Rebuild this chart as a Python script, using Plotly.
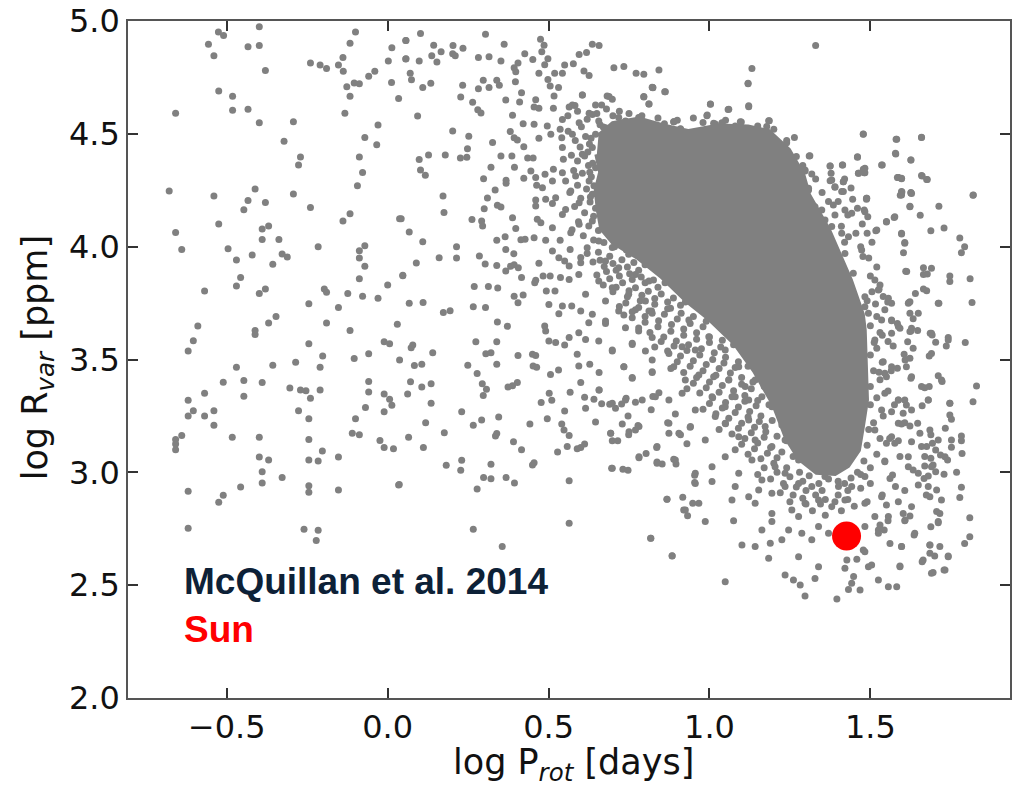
import plotly.graph_objects as go

# ---------------- data (log P_rot [days], log R_var [ppm]) ----------------
# sparse stars, left part of the diagram
stars_left = [
    (-0.526,4.951),(-0.51,4.936),(-0.399,4.975),(-0.10,4.951),(-0.557,4.897),(-0.434,4.886),(-0.399,4.891),
    (-0.117,4.901),(0.013,4.882),(0.056,4.914),(-0.54,4.846),(-0.139,4.838),(0.002,4.823),(0.056,4.832),
    (-0.24,4.814),(-0.21,4.805),(-0.19,4.79),(-0.153,4.805),(-0.138,4.777),(-0.38,4.781),(-0.04,4.777),
    (-0.059,4.755),(-0.104,4.725),(-0.088,4.722),(0.012,4.727),(-0.127,4.709),(-0.525,4.69),(-0.482,4.666),
    (-0.117,4.666),(0.034,4.657),(-0.659,4.591),(-0.482,4.604),(-0.434,4.609),(-0.133,4.591),(-0.399,4.549),
    (-0.293,4.554),(-0.03,4.539),(-0.071,4.484),(-0.322,4.467),(-0.034,4.452),(-0.271,4.397),(-0.088,4.397),
    (-0.277,4.362),(-0.078,4.329),(-0.094,4.27),(-0.679,4.247),(-0.54,4.225),(-0.412,4.256),(-0.293,4.233),
    (-0.434,4.205),(-0.38,4.196),(-0.24,4.174),(-0.447,4.164),(-0.117,4.146),(-0.139,4.114),(0.037,4.124),
    (-0.525,4.1),(-0.659,4.063),(-0.39,4.078),(-0.37,4.092),(-0.39,4.032),(-0.338,4.032),(-0.64,3.987),
    (-0.496,3.991),(-0.216,4.0),(-0.071,4.004),(-0.088,3.982),(-0.47,3.941),(-0.421,3.963),(-0.328,3.967),
    (-0.312,3.954),(-0.357,3.922),(-0.088,3.95),(-0.071,3.913),(0.047,3.873),(-0.457,3.863),(-0.47,3.826),
    (-0.088,3.858),(0.0,3.83),(-0.569,3.804),(-0.38,3.812),(-0.399,3.793),(-0.197,3.812),(-0.19,3.798),
    (-0.124,3.793),(-0.078,3.78),(-0.03,3.771),(-0.245,3.747),(-0.153,3.73),(-0.59,3.648),(-0.347,3.69),
    (-0.37,3.662),(-0.19,3.662),(-0.412,3.629),(-0.412,3.611),(-0.117,3.629),(0.03,3.656),(-0.604,3.583),
    (-0.245,3.57),(-0.011,3.579),(0.006,3.57),(-0.62,3.538),(-0.202,3.516),(-0.059,3.526),(-0.104,3.504),
    (0.037,3.498),(-0.47,3.466),(-0.357,3.475),(-0.286,3.488),(-0.21,3.466),(-0.511,3.399),(-0.447,3.407),
    (-0.39,3.398),(-0.059,3.402),(-0.569,3.35),(-0.62,3.319),(-0.447,3.337),(-0.304,3.374),(-0.271,3.365),
    (-0.254,3.361),(-0.21,3.365),(-0.24,3.328),(-0.059,3.356),(-0.011,3.347),(0.006,3.324),(-0.604,3.273),
    (-0.62,3.25),(-0.569,3.25),(-0.54,3.273),(-0.54,3.209),(-0.277,3.273),(-0.245,3.237),(-0.10,3.237),
    (-0.069,3.287),(-0.011,3.269),(0.013,3.297),(-0.64,3.163),(-0.659,3.146),(-0.659,3.126),(-0.659,3.1),
    (-0.483,3.155),(-0.399,3.155),(-0.245,3.146),(-0.11,3.173),(-0.088,3.167),(-0.024,3.141),(-0.011,3.11),
    (0.018,3.105),(-0.399,3.068),(-0.37,3.055),(-0.245,3.055),(-0.216,3.05),(-0.203,3.095),(-0.153,3.068),
    (-0.39,3.003),(-0.328,2.977),(-0.39,2.953),(-0.457,2.935),(-0.245,2.94),(-0.245,2.912),(-0.153,2.922),
    (0.034,2.944),(-0.62,2.916),(-0.511,2.898),(-0.525,2.867),(-0.62,2.752),(-0.26,2.748),(-0.216,2.743),
    (-0.222,2.698),
]

# stars between log P = 0 and 0.85
stars_mid = [
    (0.102,4.945),(0.057,4.914),(0.304,4.941),(0.475,4.919),(0.143,4.892),(0.203,4.891),(0.234,4.879),
    (0.362,4.897),(0.486,4.892),(0.636,4.897),(0.657,4.891),(0.057,4.833),(0.098,4.823),(0.137,4.846),
    (0.166,4.864),(0.153,4.818),(0.202,4.855),(0.21,4.846),(0.282,4.838),(0.315,4.842),(0.352,4.823),
    (0.426,4.855),(0.479,4.864),(0.498,4.833),(0.451,4.829),(0.595,4.851),(0.618,4.86),(0.07,4.768),
    (0.074,4.74),(0.109,4.705),(0.134,4.724),(0.393,4.793),(0.405,4.814),(0.398,4.775),(0.488,4.806),
    (0.47,4.768),(0.519,4.768),(0.543,4.768),(0.55,4.805),(0.577,4.811),(0.61,4.778),(0.626,4.759),
    (0.703,4.793),(0.734,4.798),(0.772,4.768),(0.796,4.764),(0.233,4.715),(0.227,4.663),(0.282,4.7),
    (0.297,4.737),(0.315,4.705),(0.339,4.737),(0.347,4.715),(0.397,4.731),(0.498,4.741),(0.505,4.712),
    (0.531,4.705),(0.416,4.682),(0.517,4.668),(0.605,4.672),(0.824,4.705),(0.796,4.663),(0.264,4.64),
    (0.28,4.607),(0.29,4.592),(0.367,4.65),(0.41,4.641),(0.46,4.651),(0.455,4.619),(0.47,4.613),
    (0.515,4.613),(0.564,4.619),(0.582,4.626),(0.626,4.591),(0.665,4.628),(0.682,4.668),(0.698,4.653),
    (0.812,4.632),(0.093,4.579),(0.388,4.582),(0.421,4.545),(0.455,4.542),(0.496,4.535),(0.543,4.564),
    (0.595,4.549),(0.202,4.513),(0.252,4.489),(0.326,4.462),(0.381,4.51),(0.393,4.483),(0.403,4.473),
    (0.423,4.443),(0.47,4.48),(0.507,4.498),(0.536,4.52),(0.541,4.483),(0.543,4.439),(0.574,4.498),
    (0.248,4.434),(0.098,4.386),(0.127,4.406),(0.179,4.406),(0.226,4.393),(0.246,4.396),(0.352,4.402),
    (0.386,4.402),(0.435,4.393),(0.452,4.393),(0.546,4.387),(0.605,4.409),(0.102,4.34),(0.117,4.316),
    (0.321,4.352),(0.394,4.352),(0.445,4.335),(0.489,4.321),(0.515,4.343),(0.543,4.328),(0.298,4.301),
    (0.368,4.294),(0.368,4.281),(0.423,4.303),(0.46,4.306),(0.463,4.272),(0.481,4.261),(0.512,4.291),
    (0.553,4.291),(0.569,4.247),(0.584,4.313),(0.334,4.251),(0.172,4.225),(0.31,4.216),(0.46,4.207),
    (0.491,4.21),(0.522,4.217),(0.341,4.183),(0.352,4.176),(0.46,4.18),(0.512,4.191),(0.553,4.165),
    (0.595,4.195),(0.3,4.168),(0.175,4.151),(0.042,4.124),(0.262,4.12),(0.292,4.114),(0.295,4.092),
    (0.388,4.128),(0.398,4.081),(0.465,4.121),(0.476,4.106),(0.512,4.084),(0.543,4.143),(0.595,4.099),
    (0.067,4.065),(0.109,4.022),(0.339,4.028),(0.365,4.044),(0.414,4.031),(0.427,4.033),(0.455,4.04),
    (0.491,4.028),(0.536,4.028),(0.569,4.062),(0.214,4.0),(0.16,3.951),(0.214,3.95),(0.285,3.959),
    (0.367,3.987),(0.392,3.969),(0.512,3.981),(0.532,3.951),(0.567,3.987),(0.089,3.928),(0.303,3.923),
    (0.339,3.917),(0.367,3.892),(0.382,3.913),(0.393,3.92),(0.406,3.907),(0.47,3.926),(0.55,3.936),
    (0.564,3.914),(0.6,3.929),(0.047,3.871),(0.416,3.863),(0.46,3.851),(0.483,3.87),(0.505,3.87),
    (0.537,3.863),(0.564,3.855),(0.594,3.877),(0.269,3.823),(0.313,3.823),(0.342,3.817),(0.457,3.84),
    (0.493,3.804),(0.52,3.804),(0.615,3.789),(0.393,3.78),(0.421,3.786),(0.405,3.752),(0.067,3.749),
    (0.11,3.753),(0.173,3.708),(0.194,3.716),(0.266,3.734),(0.304,3.73),(0.501,3.744),(0.543,3.737),
    (0.572,3.737),(0.532,3.703),(0.6,3.715),(0.341,3.666),(0.372,3.647),(0.488,3.648),(0.491,3.626),
    (0.625,3.663),(0.274,3.579),(0.339,3.579),(0.073,3.552),(0.078,3.564),(0.14,3.53),(0.305,3.526),
    (0.321,3.53),(0.405,3.518),(0.45,3.523),(0.46,3.518),(0.501,3.582),(0.522,3.575),(0.55,3.564),
    (0.564,3.597),(0.594,3.619),(0.615,3.589),(0.589,3.523),
    (0.636,4.586),(0.656,4.557),(0.677,4.527),(0.718,4.572),(0.739,4.557),(0.76,4.527),(0.78,4.572),
    (0.822,4.513),(0.646,4.498),(0.698,4.468),(0.76,4.453),(0.801,4.453),(0.636,4.439),(0.677,4.409),
    (0.718,4.394),(0.76,4.38),(0.822,4.409),(0.646,4.35),(0.687,4.335),(0.739,4.321),(0.791,4.335),
    (0.832,4.306),(0.626,4.291),(0.667,4.276),(0.708,4.247),(0.76,4.261),(0.801,4.232),(0.636,4.232),
    (0.656,4.173),(0.698,4.173),(0.749,4.158),(0.801,4.143),(0.636,4.114),(0.677,4.084),(0.718,4.055),
    (0.76,4.084),(0.812,4.055),(0.656,4.025),(0.698,3.996),(0.749,3.966),(0.801,3.981),(0.677,3.936),
    (0.718,3.907),(0.77,3.877),(0.812,3.848),(0.656,3.848),(0.698,3.818),(0.749,3.789),(0.801,3.759),
    (0.677,3.759),(0.718,3.715),(0.76,3.685),(0.812,3.715),(0.636,3.7),(0.677,3.671),(0.739,3.641),
    (0.78,3.626),(0.822,3.597),(0.656,3.582),(0.698,3.538),(0.76,3.567),(0.801,3.538),
    (0.083,3.473),(0.106,3.479),(0.278,3.438),(0.249,3.474),(0.339,3.479),(0.452,3.471),(0.463,3.466),
    (0.506,3.433),(0.531,3.454),(0.594,3.471),(0.628,3.479),(0.657,3.442),(0.734,3.468),(0.76,3.42),
    (0.822,3.442),(0.071,3.401),(0.135,3.392),(0.106,3.378),(0.062,3.347),(0.135,3.306),(0.294,3.393),
    (0.307,3.368),(0.297,3.341),(0.374,3.378),(0.388,3.384),(0.403,3.398),(0.477,3.31),(0.502,3.35),
    (0.51,3.319),(0.567,3.355),(0.6,3.398),(0.612,3.333),(0.641,3.324),(0.657,3.365),(0.665,3.304),
    (0.69,3.302),(0.708,3.284),(0.727,3.303),(0.741,3.328),(0.77,3.311),(0.615,3.284),(0.55,3.272),
    (0.824,3.336),(0.819,3.277),(0.843,3.353),(0.23,3.269),(0.118,3.22),(0.065,3.155),(0.111,3.11),
    (0.176,3.175),(0.266,3.209),(0.292,3.232),(0.345,3.245),(0.339,3.172),(0.335,3.161),(0.391,3.136),
    (0.416,3.1),(0.442,3.214),(0.496,3.237),(0.541,3.214),(0.548,3.188),(0.564,3.163),(0.558,3.114),
    (0.528,3.09),(0.589,3.104),(0.6,3.11),(0.612,3.126),(0.646,3.223),(0.693,3.173),(0.698,3.14),
    (0.715,3.14),(0.729,3.214),(0.747,3.25),(0.749,3.167),(0.77,3.188),(0.778,3.207),(0.87,3.22),
    (0.874,3.173),(0.894,3.259),(0.91,3.166),(0.93,3.127),(0.94,3.2),(0.836,3.11),(0.182,3.031),
    (0.23,3.053),(0.227,3.009),(0.321,3.036),(0.298,2.977),(0.321,2.972),(0.368,2.977),(0.394,2.953),
    (0.278,2.926),(0.45,3.033),(0.455,3.042),(0.564,2.963),(0.696,3.018),(0.731,3.014),(0.747,3.009),
    (0.781,3.065),(0.803,3.084),(0.837,3.046),(0.853,3.037),(0.889,3.058),(0.896,3.037),(0.954,2.987),
    (0.954,2.955),(0.917,2.89),(0.868,2.881),(0.948,2.863),(0.92,2.833),(0.932,2.808),(0.036,2.946),
    (0.266,2.748),(0.564,2.774),(0.356,2.671),(0.818,2.708),(0.884,2.63),
]

# stars around the main concentration (log P = 0.6 - 1.85)
stars_right = [
    (0.843,4.783),(0.824,4.704),(0.861,4.687),(1.132,4.79),(1.12,4.722),(1.33,4.891),(1.003,4.631),
    (1.058,4.608),(1.122,4.62),(0.992,4.58),(1.018,4.544),(1.039,4.549),(0.889,4.554),(0.91,4.523),
    (1.099,4.552),(1.186,4.558),(1.178,4.532),(1.478,4.499),(1.58,4.476),(1.659,4.484),(1.24,4.47),
    (1.264,4.484),(1.23,4.421),(1.312,4.403),(1.46,4.399),(1.579,4.411),(1.626,4.384),(1.535,4.362),
    (1.375,4.357),(1.414,4.362),(1.463,4.325),(1.483,4.328),(1.378,4.325),(1.266,4.354),(1.297,4.335),
    (1.318,4.322),(1.375,4.292),(1.416,4.288),(1.39,4.263),(1.411,4.244),(1.584,4.306),(1.597,4.303),
    (1.661,4.313),(1.675,4.298),(1.597,4.244),(1.626,4.24),(1.82,4.229),(1.489,4.214),(1.308,4.251),
    (1.31,4.402),(1.375,4.358),(1.413,4.362),(1.46,4.396),(1.38,4.295),(1.39,4.266),(1.416,4.288),
    (1.416,4.244),(1.463,4.325),(1.478,4.343),(1.587,4.307),(1.597,4.229),(1.628,4.236),(1.297,4.34),
    (1.308,4.259),(1.349,4.163),(1.385,4.185),(1.421,4.163),(1.442,4.148),(1.483,4.155),(1.488,4.214),
    (1.52,4.074),(1.55,4.111),(1.576,4.133),(1.623,4.177),(1.597,4.059),(1.607,4.015),(1.613,3.89),
    (1.411,4.059),(1.432,4.044),(1.473,3.985),(1.421,3.97),(1.447,3.882),(1.514,3.852),(1.525,3.808),
    (1.556,3.771),(1.623,3.756),(1.483,3.778),(1.494,3.705),(1.566,3.675),(1.587,3.646),(1.628,3.638),
    (1.359,4.118),(1.328,4.177),(1.38,4.089),
    (0.822,4.706),(0.863,4.687),(1.12,4.724),(1.122,4.624),(1.003,4.632),(1.06,4.609),(0.993,4.584),
    (1.013,4.547),(1.039,4.547),(0.889,4.554),(0.91,4.52),(1.096,4.554),(1.184,4.558),(0.796,4.665),
    (0.812,4.632),(0.605,4.672),(0.688,4.665),(0.646,4.628),(0.574,4.628),
    (1.478,4.498),(1.582,4.476),(1.659,4.485),(1.578,4.414),(1.626,4.384),(1.537,4.362),(1.483,4.347),
    (1.481,4.328),(1.587,4.307),(1.597,4.301),(1.659,4.315),(1.677,4.298),(1.598,4.242),(1.593,4.228),
    (1.626,4.238),(1.819,4.228),(1.488,4.21),(1.623,4.179),(1.713,4.179),(1.481,4.163),(1.492,4.133),
    (1.574,4.129),(1.55,4.109),(1.655,4.139),(1.517,4.07),(1.597,4.056),(1.607,4.019),(1.603,3.973),
    (1.688,4.07),(1.729,4.083),(1.778,4.038),(1.793,4.0),(1.783,3.973),(1.61,3.891),(1.665,3.907),
    (1.69,3.904),(1.665,3.877),(1.677,3.879),(1.747,3.87),(1.747,3.846),(1.81,3.858),(1.477,3.956),
    (1.527,3.811),(1.54,3.779),(1.554,3.755),(1.516,3.746),(1.64,3.793),(1.665,3.812),(1.675,3.805),
    (1.62,3.753),(1.713,3.749),(1.816,3.753),(1.623,3.705),(1.633,3.681),(1.566,3.672),(1.584,3.66),
    (1.592,3.638),(1.626,3.626),(1.647,3.628),(1.686,3.616),(1.692,3.609),(1.703,3.576),(1.742,3.597),
    (1.736,3.56),(1.795,3.575),(1.537,3.607),(1.512,3.575),(1.571,3.56),(1.616,3.579),(1.633,3.55),
    (1.605,3.523),(1.623,3.505),(1.612,3.468),(1.683,3.516),(1.626,3.417),(1.537,3.488),(1.527,3.443),
    (1.55,3.424),(1.584,3.461),(1.711,3.428),(1.723,3.402),(1.669,3.375),(1.683,3.38),(1.83,3.383),
    (1.819,3.313),(1.747,3.306),(1.68,3.32),(1.661,3.295),(1.607,3.32),(1.612,3.298),(1.587,3.32),
    (1.566,3.269),(1.602,3.262),(1.607,3.22),(1.623,3.205),(1.647,3.217),(1.597,3.214),(1.747,3.254),
    (1.752,3.235),(1.733,3.195),(1.685,3.188),(1.688,3.166),(1.783,3.161),(1.783,3.14),(1.654,3.173),
    (1.628,3.136),(1.587,3.14),(1.566,3.158),(1.55,3.129),(1.675,3.114),(1.693,3.129),(1.703,3.099),
    (1.718,3.077),(1.669,3.07),(1.688,3.062),(1.752,3.111),(1.785,3.084),(1.74,3.055),(1.592,3.07),
    (1.618,3.025),(1.633,3.01),(1.669,3.028),(1.695,3.033),(1.703,3.003),(1.729,2.991),(1.768,3.0),
    (1.667,2.973),(1.68,2.984),(1.649,2.944),(1.569,2.988),(1.561,2.973),(1.545,3.047),(1.578,2.937),
    (1.607,2.919),(1.674,2.9),(1.685,2.892),(1.706,2.922),(1.783,2.934),(1.778,2.889),(1.587,2.87),
    (1.55,2.855),(1.537,2.9),(1.602,2.818),(1.623,2.807),(1.706,2.826),(1.716,2.818),(1.711,2.777),
    (1.688,2.759),(1.809,2.799),(1.809,2.715),(1.793,2.685),(1.636,2.722),(1.607,2.786),(1.555,2.786),
    (1.53,2.767),(1.543,2.744),(1.525,2.73),(1.561,2.685),(1.597,2.671),(1.685,2.678),(1.716,2.671),
    (1.685,2.641),(1.7,2.629),(1.742,2.629),(1.729,2.567),(1.695,2.556),(1.661,2.604),(1.592,2.585),
    (1.504,2.589),(1.483,2.648),
]

# stars below the main concentration
stars_low = [
    (0.677,3.66),(0.734,3.697),(0.77,3.72),(0.822,3.705),(0.879,3.727),(0.936,3.675),(0.987,3.705),
    (1.029,3.653),(1.07,3.72),(0.698,3.542),(0.76,3.572),(0.822,3.498),(0.874,3.527),(0.915,3.557),
    (0.956,3.542),(0.998,3.601),(1.049,3.542),(1.08,3.587),(0.734,3.468),(0.76,3.417),(0.822,3.446),
    (0.889,3.468),(0.925,3.409),(0.967,3.431),(1.013,3.424),(1.06,3.409),(1.091,3.468),(1.111,3.38),
    (1.142,3.409),(0.657,3.365),(0.698,3.306),(0.739,3.321),(0.791,3.321),(0.832,3.335),(0.874,3.321),
    (0.915,3.35),(0.956,3.276),(1.008,3.335),(1.049,3.291),(1.08,3.335),(1.122,3.321),(1.163,3.335),
    (1.194,3.291),(1.215,3.365),(0.693,3.173),(0.75,3.18),(0.781,3.203),(0.837,3.114),(0.874,3.217),
    (0.905,3.173),(0.941,3.203),(1.018,3.247),(0.987,3.143),(1.049,3.217),(1.091,3.158),(1.122,3.232),
    (1.142,3.143),(1.173,3.203),(1.194,3.114),(1.235,3.143),(1.256,3.203),(0.781,3.069),(0.837,3.04),
    (0.894,3.055),(0.956,2.996),(1.008,3.025),(1.049,3.069),(1.091,2.996),(1.132,3.055),(1.163,2.966),
    (1.204,3.025),(1.235,2.996),(1.277,3.055),(0.698,3.018),(0.956,2.951),(1.008,2.959),(1.08,2.937),
    (1.122,2.892),(1.153,2.922),(1.194,2.907),(1.235,2.937),(1.277,2.951),(1.318,2.937),(1.359,2.981),
    (1.401,2.937),(1.442,2.937),(1.483,2.981),(0.868,2.881),(0.925,2.833),(0.967,2.863),(1.07,2.877),
    (1.142,2.863),(1.194,2.818),(1.256,2.833),(1.297,2.863),(1.339,2.877),(1.38,2.848),(1.421,2.877),
    (1.483,2.863),(1.514,2.804),(1.535,2.892),(0.817,2.708),(0.884,2.629),(0.987,2.782),(1.075,2.786),
    (1.101,2.678),(1.142,2.671),(1.163,2.745),(1.194,2.782),(1.189,2.686),(1.225,2.701),(1.246,2.745),
    (1.277,2.804),(1.287,2.73),(1.318,2.701),(1.339,2.76),(1.37,2.73),(1.401,2.701),(1.483,2.76),
    (1.525,2.745),(1.556,2.804),(1.184,2.619),(1.277,2.626),(1.339,2.582),(1.427,2.611),(1.458,2.615),
    (1.478,2.656),(1.421,2.575),(1.494,2.582),(1.235,2.545),(1.261,2.523),(1.328,2.53),(1.282,2.501),
    (1.448,2.538),(1.442,2.508),(1.525,2.523),(1.556,2.493),(1.582,2.493),(1.432,2.481),(1.468,2.479),
    (1.297,2.452),(1.396,2.439),(1.049,2.515),(1.592,2.582),(1.597,2.671),(1.664,2.611),(1.69,2.553),
    (1.732,2.567),(1.742,2.626),(1.685,2.678),(1.638,2.73),(1.608,2.789),(1.628,2.848),(1.711,2.782),
    (1.721,2.877),(1.68,2.937),(1.649,2.996),(1.69,3.025),(1.732,3.069),(1.752,3.143),(1.711,3.143),
    (1.659,3.114),(1.618,3.069),(1.576,3.129),(1.587,3.217),(1.628,3.276),(1.68,3.321),(1.721,3.409),
    (1.747,3.306),(1.659,3.38),(1.587,3.321),(1.545,3.35),(1.535,3.276),(1.514,3.188),(1.566,3.468),
    (1.608,3.498),(1.628,3.424),(1.545,3.439),(1.514,3.586),(1.566,3.616),(1.623,3.624),(1.69,3.616),
    (1.742,3.586),(1.69,3.527),(1.535,3.675),(1.483,3.734),(1.566,3.749),(1.711,3.749),(1.649,3.705),
    (1.618,3.749),
]

# crowded stars hugging the saturated concentration
stars_crowd = [
    (0.561,4.512),(0.583,4.47),(0.602,4.531),(0.615,4.488),(0.598,4.442),(0.627,4.455),(0.571,4.405),
    (0.59,4.38),(0.612,4.402),(0.624,4.36),(0.605,4.325),(0.578,4.338),(0.633,4.31),(0.59,4.272),
    (0.618,4.255),(0.566,4.24),(0.6,4.214),(0.629,4.198),(0.581,4.178),(0.612,4.15),(0.64,4.135),
    (0.593,4.11),(0.625,4.092),(0.655,4.072),(0.573,4.075),(0.608,4.048),(0.64,4.03),(0.672,4.018),
    (0.705,4.0),(0.742,3.985),(0.62,3.995),(0.655,3.975),(0.69,3.958),(0.728,3.942),(0.765,3.93),
    (0.8,3.92),(0.835,3.905),(0.6,3.952),(0.638,3.932),(0.673,3.912),(0.71,3.895),(0.752,3.88),
    (0.788,3.866),(0.826,3.852),(0.862,3.84),(0.9,3.815),(0.65,3.875),(0.69,3.858),(0.73,3.84),
    (0.77,3.818),(0.81,3.802),(0.85,3.79),(0.888,3.772),(0.925,3.755),(0.962,3.74),(0.995,3.725),
    (0.7,3.8),(0.745,3.778),(0.785,3.76),(0.83,3.745),(0.87,3.725),(0.912,3.705),(0.95,3.69),
    (0.99,3.67),(1.03,3.66),(1.06,3.635),(1.09,3.61),(0.72,3.735),(0.76,3.712),(0.8,3.69),
    (0.842,3.672),(0.882,3.655),(0.92,3.635),(0.96,3.618),(1.0,3.6),(1.04,3.585),(1.075,3.565),
    (1.11,3.545),(1.14,3.52),(0.78,3.64),(0.815,3.62),(0.858,3.6),(0.897,3.582),(0.935,3.565),
    (0.975,3.548),(1.015,3.53),(1.05,3.51),(1.09,3.49),(1.12,3.47),(1.15,3.45),(0.83,3.555),
    (0.87,3.538),(0.91,3.515),(0.95,3.495),(0.99,3.478),(1.03,3.46),(1.065,3.44),(1.1,3.42),
    (1.135,3.4),(1.17,3.38),(1.2,3.36),(0.88,3.46),(0.92,3.442),(0.96,3.42),(1.0,3.4),
    (1.04,3.385),(1.075,3.362),(1.11,3.34),(1.15,3.318),(1.185,3.3),(1.215,3.28),(0.93,3.37),
    (0.97,3.352),(1.01,3.33),(1.05,3.31),(1.09,3.29),(1.125,3.27),(1.16,3.25),(1.195,3.23),
    (1.225,3.21),(0.98,3.28),(1.02,3.26),(1.06,3.24),(1.1,3.218),(1.14,3.2),(1.175,3.18),
    (1.21,3.16),(1.24,3.14),(1.03,3.19),(1.07,3.17),(1.11,3.15),(1.15,3.13),(1.19,3.11),
    (1.225,3.09),(1.26,3.07),(1.08,3.1),(1.12,3.08),(1.16,3.06),(1.2,3.04),(1.24,3.02),
    (1.28,3.0),(1.31,2.985),(1.15,2.99),(1.19,2.97),(1.23,2.95),(1.27,2.935),(1.3,2.92),
    (1.34,2.95),(1.37,2.97),(1.4,2.96),(1.44,2.975),(1.46,3.0),(1.25,2.87),(1.29,2.885),
    (1.33,2.9),(1.36,2.88),(1.4,2.9),(1.43,2.92),(1.47,2.93),(1.5,2.95),(1.32,2.83),
    (1.36,2.81),(1.41,2.83),(1.45,2.85),(1.49,2.87),
    (1.445,4.21),(1.46,4.17),(1.475,4.1),(1.49,4.06),(1.505,4.02),(1.47,4.0),(1.495,3.95),
    (1.52,3.91),(1.5,3.87),(1.53,3.83),(1.505,3.8),(1.545,3.72),(1.52,3.69),(1.5,3.65),
    (1.53,3.62),(1.555,3.58),(1.52,3.55),(1.5,3.52),(1.54,3.49),(1.51,3.45),(1.53,3.41),
    (1.5,3.38),(1.555,3.36),(1.52,3.33),(1.5,3.3),(1.54,3.25),(1.51,3.22),(1.495,3.19),
    (1.53,3.15),(1.49,3.12),(1.52,3.08),(1.48,3.05),(1.5,3.02),(1.47,2.99),(1.42,4.3),
    (1.44,4.26),(1.4,4.2),(1.43,4.14),(1.455,4.06),(1.49,3.76),(1.565,3.45),(1.575,3.3),
    (1.56,3.15),(1.545,3.05),
    (0.56,4.58),(0.59,4.6),(0.62,4.565),(0.65,4.59),(0.68,4.61),(0.7,4.58),(0.72,4.6),
    (0.75,4.59),(0.66,4.54),(0.74,4.555),(0.79,4.58),(0.84,4.57),(0.86,4.545),(0.9,4.56),
    (0.95,4.57),(0.98,4.55),(1.05,4.56),(1.08,4.535),(1.15,4.535),(1.2,4.52),(1.24,4.46),
    (1.27,4.4),(1.29,4.36),(1.33,4.3),(1.35,4.24),(1.37,4.2),(1.39,4.14),(1.41,4.09),(1.42,4.02),
    (0.62,3.97),(0.66,3.94),(0.7,3.925),(0.745,3.91),(0.78,3.895),(0.68,3.89),(0.72,3.87),
    (0.76,3.855),(0.8,3.84),(0.84,3.82),(0.67,3.83),(0.71,3.82),(0.75,3.805),(0.79,3.785),
    (0.83,3.77),(0.87,3.755),(0.91,3.74),(0.74,3.75),(0.78,3.73),(0.82,3.715),(0.86,3.7),
    (0.9,3.68),(0.94,3.66),(0.98,3.645),(0.8,3.665),(0.84,3.645),(0.88,3.625),(0.92,3.608),
    (0.96,3.59),(1.0,3.575),(1.035,3.555),(0.85,3.58),(0.89,3.56),(0.93,3.54),(0.97,3.52),
    (1.01,3.5),(1.045,3.485),(1.08,3.465),(0.9,3.49),(0.94,3.47),(0.98,3.45),(1.02,3.43),
    (1.06,3.41),(1.1,3.39),(1.13,3.37),(0.95,3.395),(0.99,3.375),(1.03,3.355),(1.07,3.335),
    (1.11,3.315),(1.145,3.295),(1.0,3.305),(1.04,3.285),(1.08,3.265),(1.12,3.245),(1.155,3.225),
    (1.05,3.215),(1.09,3.195),(1.13,3.175),(1.17,3.155),(1.1,3.125),(1.14,3.105),(1.18,3.085),
    (1.21,3.065),(1.17,3.02),(1.21,3.0),(1.25,2.98),(1.29,2.96),(1.22,2.91),(1.26,2.9),
    (1.3,2.86),(1.345,2.86),(1.39,2.87),(1.43,2.88),(1.35,2.92),(1.42,2.95),
    (0.632,4.48),(0.622,4.42),(0.637,4.37),(0.628,4.33),(0.641,4.27),(0.63,4.22),(0.646,4.17),
    (0.67,4.53),(0.665,4.12),(0.69,4.085),(0.715,4.05),(0.74,4.03),
]

# outline of the saturated (fully overlapping) concentration of stars
core_x = [0.655,0.70,0.781,0.87,0.936,1.029,1.12,1.184,1.246,1.29,1.308,1.370,1.438,1.475,1.481,
          1.488,1.475,1.463,1.43,1.39,1.333,1.28,1.24,1.2,1.14,1.08,1.0,0.93,0.85,0.78,0.70,0.665,
          0.655,0.648,0.662,0.650]
core_y = [4.49,4.545,4.565,4.53,4.51,4.535,4.53,4.51,4.428,4.32,4.229,4.074,3.852,3.70,3.631,
          3.321,3.2,3.099,3.03,2.995,3.0,3.06,3.15,3.3,3.45,3.57,3.68,3.76,3.87,3.95,4.02,4.08,
          4.16,4.25,4.33,4.41]

sun_x = [1.426]
sun_y = [2.718]

x_ticks = [-0.5, 0.0, 0.5, 1.0, 1.5]
x_ticktext = ["\u22120.5", "0.0", "0.5", "1.0", "1.5"]
y_ticks = [2.0, 2.5, 3.0, 3.5, 4.0, 4.5, 5.0]
y_ticktext = ["2.0", "2.5", "3.0", "3.5", "4.0", "4.5", "5.0"]

# ---------------- figure ----------------
all_pts = stars_left + stars_mid + stars_right + stars_low + stars_crowd
star_x = [p[0] for p in all_pts]
star_y = [p[1] for p in all_pts]

GRAY = "#808080"
fig = go.Figure()
fig.add_trace(go.Scatter(x=core_x, y=core_y, mode="lines", fill="toself",
                         fillcolor=GRAY, line=dict(color=GRAY, width=5),
                         hoverinfo="skip", showlegend=False))
fig.add_trace(go.Scatter(x=star_x, y=star_y, mode="markers",
                         marker=dict(color=GRAY, size=7, line=dict(width=0)),
                         showlegend=False))
fig.add_trace(go.Scatter(x=sun_x, y=sun_y, mode="markers",
                         marker=dict(color="#ff0000", size=29, line=dict(width=0)),
                         showlegend=False))

tickfont = dict(family="DejaVu Sans", size=32, color="#111111")
fig.update_layout(
    width=1012, height=789,
    margin=dict(l=128, r=0, t=21, b=91),
    paper_bgcolor="white", plot_bgcolor="white",
    xaxis=dict(range=[-0.807, 1.934], tickvals=x_ticks, ticktext=x_ticktext,
               showgrid=False, zeroline=False, showline=True, linecolor="#555555", linewidth=1.5,
               mirror="ticks", ticks="inside", ticklen=10, tickwidth=1.5, tickcolor="#333333",
               tickfont=tickfont),
    yaxis=dict(range=[2.0, 5.0], tickvals=y_ticks, ticktext=y_ticktext,
               showgrid=False, zeroline=False, showline=True, linecolor="#555555", linewidth=1.5,
               mirror="ticks", ticks="inside", ticklen=10, tickwidth=1.5, tickcolor="#333333",
               tickfont=tickfont),
    font=dict(family="DejaVu Sans"),
)

fig.add_annotation(text="log P<sub><i>rot</i></sub> [days]", xref="paper", yref="paper",
                   x=0.505, y=-0.098, xanchor="center", yanchor="middle", showarrow=False,
                   font=dict(family="DejaVu Sans", size=35, color="#111111"))
fig.add_annotation(text="log R<sub><i>var</i></sub> [ppm]", xref="paper", yref="paper",
                   x=-0.103, y=0.502, xanchor="center", yanchor="middle", textangle=-90,
                   showarrow=False, font=dict(family="DejaVu Sans", size=35, color="#111111"))
fig.add_annotation(text="<b>McQuillan et al. 2014</b><br><b><span style='color:#ff0000'>Sun</span></b>",
                   xref="paper", yref="paper", align="left",
                   x=0.0611, y=0.137, xanchor="left", yanchor="middle", showarrow=False,
                   font=dict(family="Liberation Sans", size=37, color="#0d2137"))

fig.write_html("out.html")
